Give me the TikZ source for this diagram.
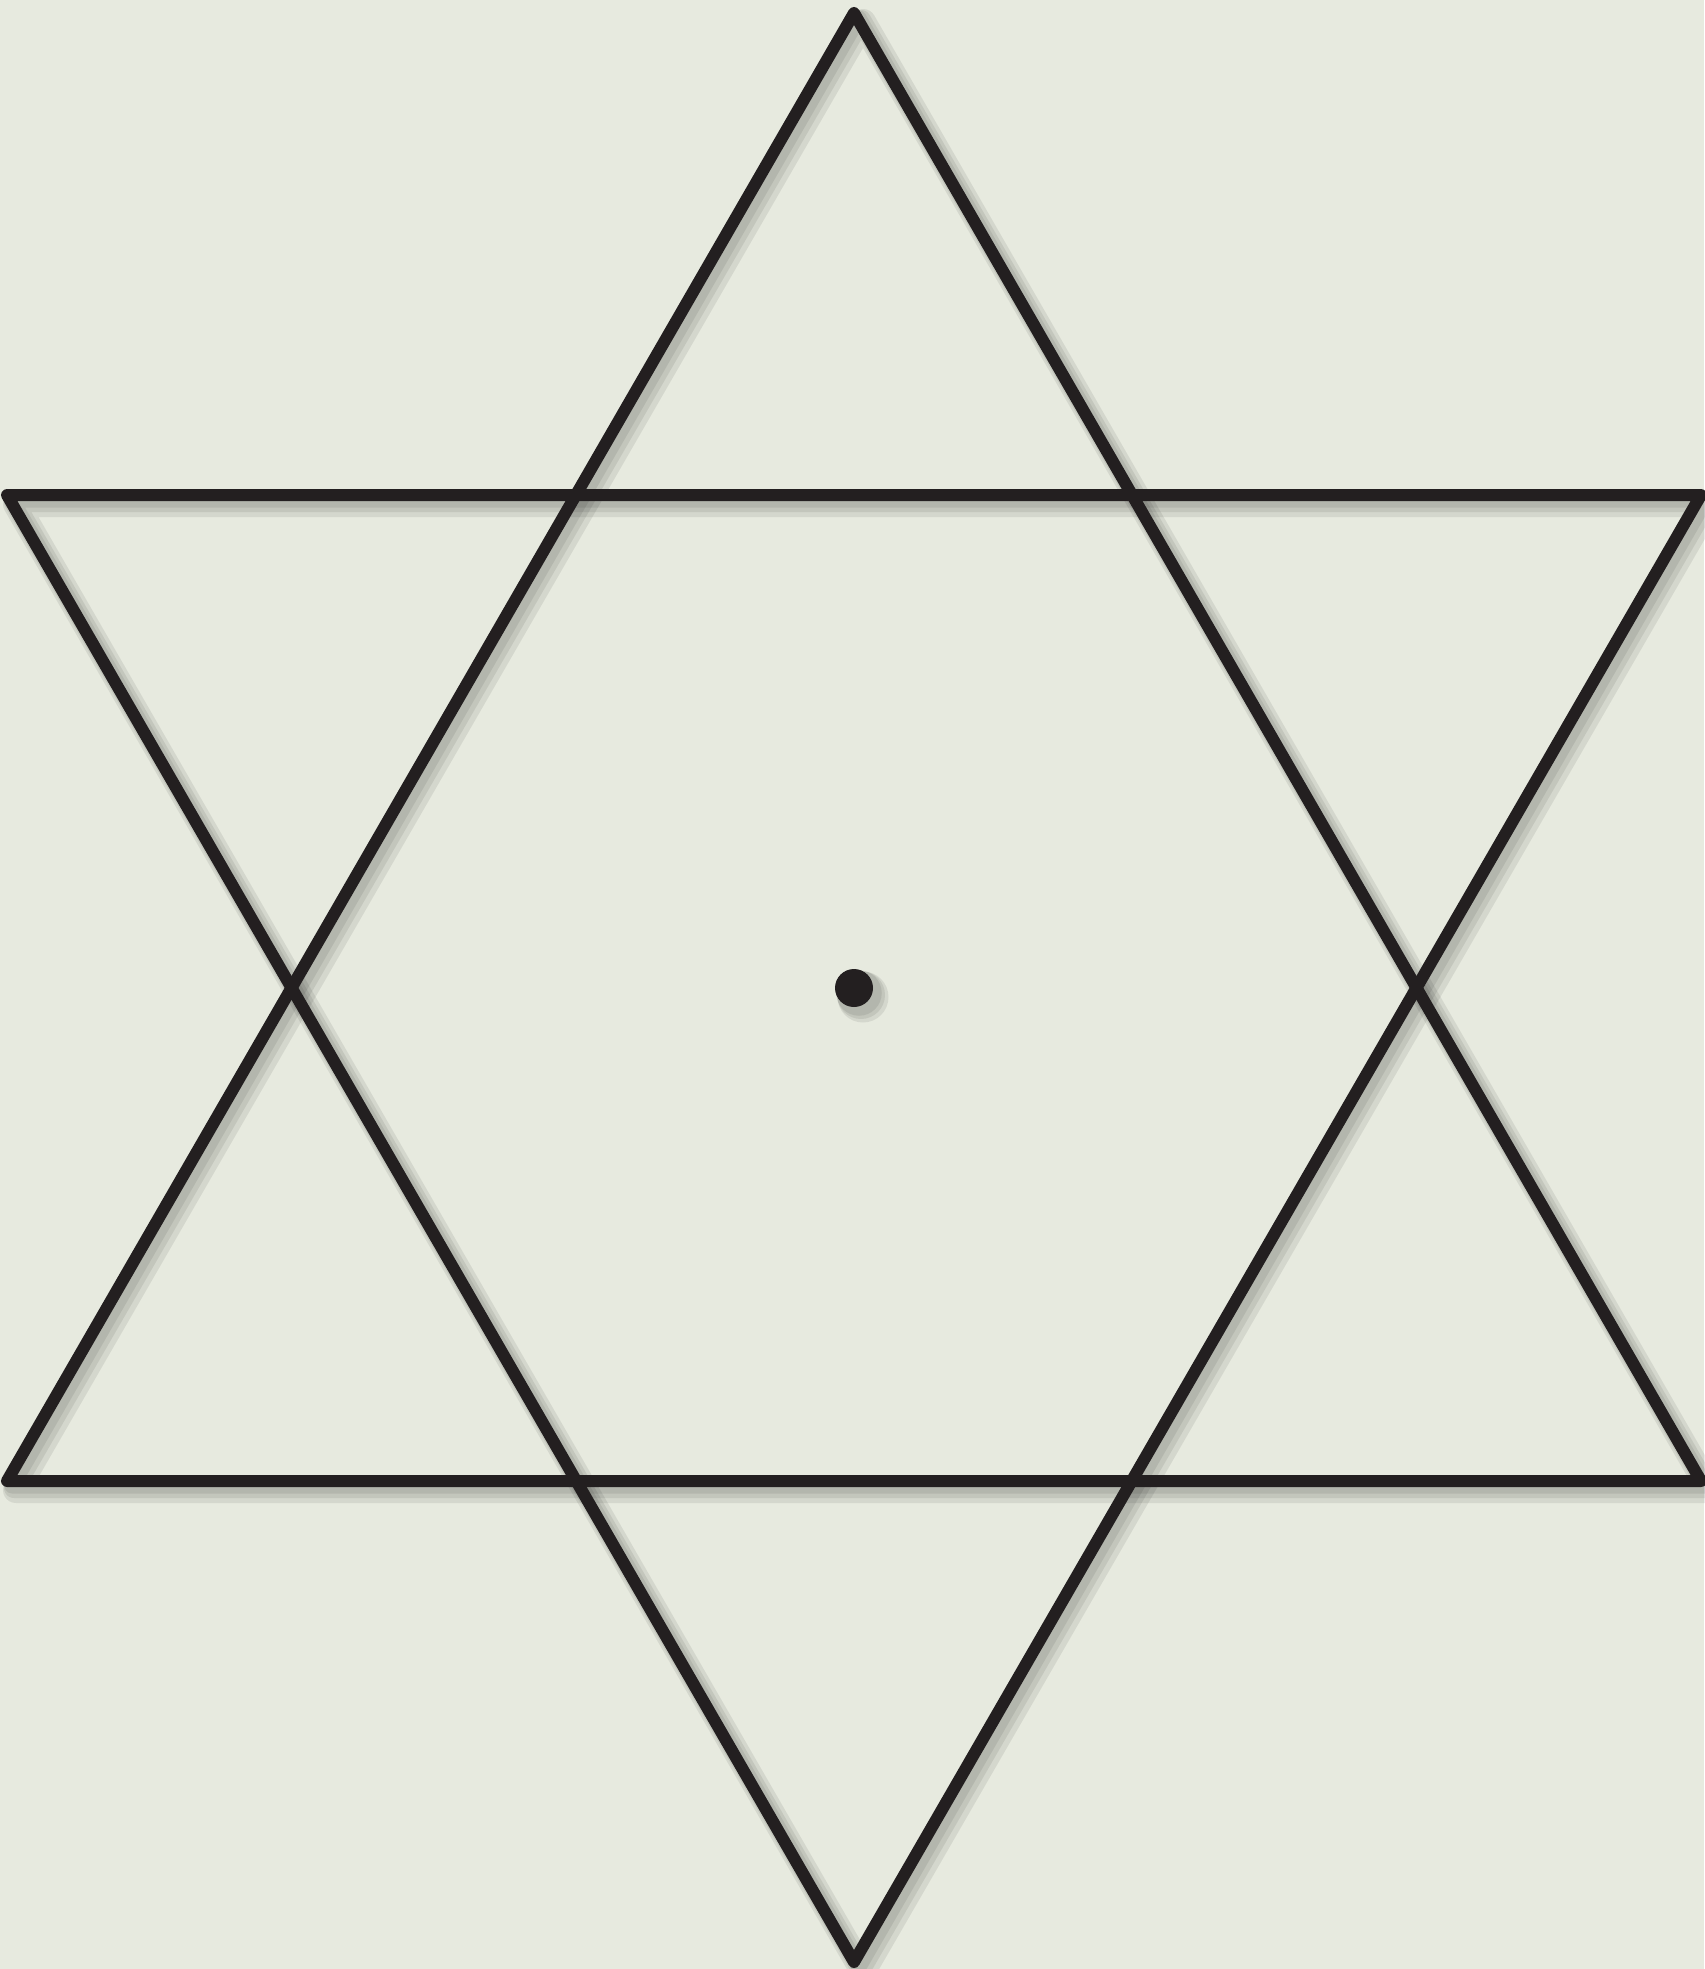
\documentclass[tikz,border=0pt]{standalone}
\usetikzlibrary{calc}
\definecolor{bg}{HTML}{E7EADF}
\definecolor{ink}{HTML}{231F20}
\tikzset{
  starline/.style={draw=ink, line width=12*0.3mm, line join=round, line cap=round},
  shadowline/.style={draw=black, line join=round, line cap=round, opacity=0.08},
}
\begin{document}
\begin{tikzpicture}[x=0.3mm,y=-0.3mm]
\fill[bg] (0,0) rectangle (1704,1969);
\useasboundingbox (0,0) rectangle (1704,1969);
\coordinate (T) at (854,13);
\coordinate (BL) at (7,1481);
\coordinate (BR) at (1701,1481);
\coordinate (B) at (854,1962);
\coordinate (TL) at (7,495);
\coordinate (TR) at (1701,495);
\coordinate (C) at (854,988);
% shadows (offset down-right)
\foreach \s/\w in {9/26,7/20,5/15}{
  \begin{scope}[transform canvas={xshift=\s*0.3mm, yshift=-\s*0.3mm}]
  \draw[shadowline, line width=\w*0.3mm] (T) -- (BR) -- (BL) -- cycle;
  \draw[shadowline, line width=\w*0.3mm] (B) -- (TL) -- (TR) -- cycle;
  \fill[black, opacity=0.08] (C) circle[radius=19+\w/4];
  \end{scope}
}
% star
\draw[starline] (T) -- (BR) -- (BL) -- cycle;
\draw[starline] (B) -- (TL) -- (TR) -- cycle;
\node[circle, fill=ink, inner sep=0pt, minimum size=38*0.3mm] (dot) at (C) {};
\end{tikzpicture}
\end{document}
